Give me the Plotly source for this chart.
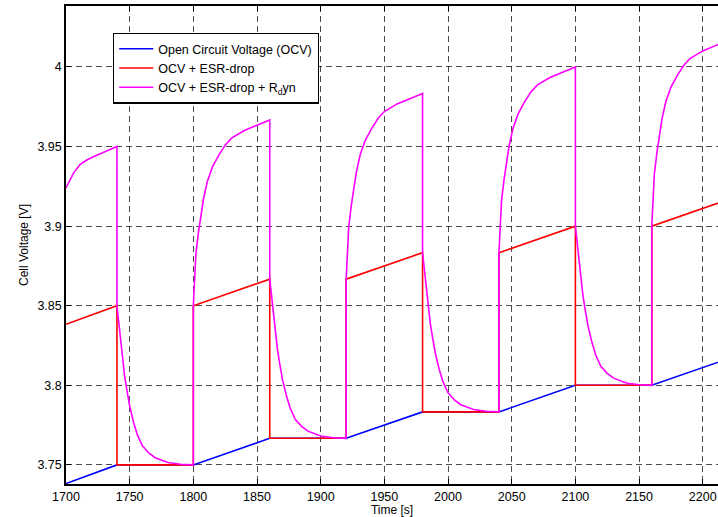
import plotly.graph_objects as go

# ---- data ----
ocv_t = [1700, 1740, 1800, 1860, 1920, 1980, 2040, 2100, 2160, 2220]
ocv_v = [3.7383, 3.7500, 3.7500, 3.7667, 3.7667, 3.7833, 3.7833, 3.8000, 3.8000, 3.8167]

esr_t = [1700, 1740, 1740, 1800, 1800, 1860, 1860, 1920, 1920, 1980, 1980,
         2040, 2040, 2100, 2100, 2160, 2160, 2220]
esr_v = [3.8383, 3.8500, 3.7500, 3.7500, 3.8500, 3.8667, 3.7667, 3.7667, 3.8667,
         3.8833, 3.7833, 3.7833, 3.8833, 3.9000, 3.8000, 3.8000, 3.9000, 3.9167]

rdyn_t = [
    1700, 1703, 1706, 1711, 1716, 1722, 1729, 1735, 1740,
    1740, 1741, 1742, 1744, 1746, 1748, 1750, 1753, 1756, 1760, 1765, 1770, 1780, 1790, 1800,
    1800, 1801, 1802, 1804, 1806, 1808, 1811, 1815, 1820, 1825, 1830, 1840, 1850, 1860,
    1860, 1861, 1862, 1864, 1866, 1868, 1870, 1873, 1876, 1880, 1885, 1890, 1900, 1910, 1920,
    1920, 1921, 1922, 1924, 1926, 1928, 1931, 1935, 1940, 1945, 1950, 1960, 1970, 1980,
    1980, 1981, 1982, 1984, 1986, 1988, 1990, 1993, 1996, 2000, 2005, 2010, 2020, 2030, 2040,
    2040, 2041, 2042, 2044, 2046, 2048, 2051, 2055, 2060, 2065, 2070, 2080, 2090, 2100,
    2100, 2101, 2102, 2104, 2106, 2108, 2110, 2113, 2116, 2120, 2125, 2130, 2140, 2150, 2160,
    2160, 2161, 2162, 2164, 2166, 2168, 2171, 2175, 2180, 2185, 2190, 2200, 2210, 2220,
]
rdyn_v = [
    3.9240, 3.9290, 3.9335, 3.9387, 3.9414, 3.9437, 3.9460, 3.9480, 3.9500,
    3.8500, 3.8420, 3.8350, 3.8190, 3.8060, 3.7960, 3.7870, 3.7770, 3.7690, 3.7620, 3.7575, 3.7545, 3.7515, 3.7504, 3.7500,
    3.8500, 3.8723, 3.8826, 3.8961, 3.9077, 3.9172, 3.9281, 3.9372, 3.9446, 3.9509, 3.9553, 3.9601, 3.9634, 3.9667,
    3.8667, 3.8587, 3.8517, 3.8357, 3.8227, 3.8127, 3.8037, 3.7937, 3.7857, 3.7787, 3.7742, 3.7712, 3.7682, 3.7671, 3.7667,
    3.8667, 3.8890, 3.8993, 3.9128, 3.9244, 3.9339, 3.9448, 3.9539, 3.9613, 3.9676, 3.9720, 3.9768, 3.9801, 3.9833,
    3.8833, 3.8753, 3.8683, 3.8523, 3.8393, 3.8293, 3.8203, 3.8103, 3.8023, 3.7953, 3.7908, 3.7878, 3.7848, 3.7837, 3.7833,
    3.8833, 3.9056, 3.9159, 3.9294, 3.9410, 3.9505, 3.9614, 3.9705, 3.9779, 3.9842, 3.9886, 3.9934, 3.9967, 4.0000,
    3.9000, 3.8920, 3.8850, 3.8690, 3.8560, 3.8460, 3.8370, 3.8270, 3.8190, 3.8120, 3.8075, 3.8045, 3.8015, 3.8004, 3.8000,
    3.9000, 3.9223, 3.9326, 3.9461, 3.9577, 3.9672, 3.9781, 3.9872, 3.9946, 4.0009, 4.0053, 4.0101, 4.0134, 4.0167,
]

x_ticks = [1700, 1750, 1800, 1850, 1900, 1950, 2000, 2050, 2100, 2150, 2200]
y_ticks = [3.75, 3.8, 3.85, 3.9, 3.95, 4.0]
y_tick_labels = ["3.75", "3.8", "3.85", "3.9", "3.95", "4"]

names = ["Open Circuit Voltage (OCV)", "OCV + ESR-drop", "OCV + ESR-drop + R<sub>d</sub>yn"]
colors = ["#0000FF", "#FF0000", "#FF00FF"]

fig = go.Figure()
for (t, v), name, c in zip([(ocv_t, ocv_v), (esr_t, esr_v), (rdyn_t, rdyn_v)], names, colors):
    fig.add_trace(go.Scatter(x=t, y=v, mode="lines", name=name,
                             line=dict(color=c, width=1.6)))

font = "Liberation Sans, Arial, sans-serif"
fig.update_layout(
    width=718, height=517,
    margin=dict(l=66, r=0, t=6, b=33, autoexpand=False),
    paper_bgcolor="white", plot_bgcolor="white",
    font=dict(family=font, size=12, color="black"),
    showlegend=True,
    legend=dict(x=0.072, y=0.944, xanchor="left", yanchor="top",
                bgcolor="white", bordercolor="black", borderwidth=1.3,
                font=dict(size=12.5), tracegroupgap=0, itemwidth=34),
)
fig.update_xaxes(
    range=[1700, 2212], tickvals=x_ticks, ticktext=[str(v) for v in x_ticks],
    ticks="inside", ticklen=5, tickcolor="black",
    showline=True, linecolor="black", linewidth=1.5, mirror="ticks",
    showgrid=True, gridcolor="rgba(0,0,0,0.7)", griddash="6px,4px", gridwidth=1,
    zeroline=False, tickfont=dict(size=12.5),
    title=dict(text="Time [s]", standoff=2, font=dict(size=12)),
)
fig.update_yaxes(
    range=[3.738, 4.0383], tickvals=y_ticks, ticktext=y_tick_labels,
    ticks="inside", ticklen=5, tickcolor="black",
    showline=True, linecolor="black", linewidth=1.5,
    showgrid=True, gridcolor="rgba(0,0,0,0.7)", griddash="6px,4px", gridwidth=1,
    zeroline=False, tickfont=dict(size=12.5),
    title=dict(text="Cell Voltage [V]", standoff=6, font=dict(size=12)),
)

fig.write_html("out.html", config={"displayModeBar": False},
               post_script="document.body.style.margin='0px';document.body.style.overflow='hidden';")
